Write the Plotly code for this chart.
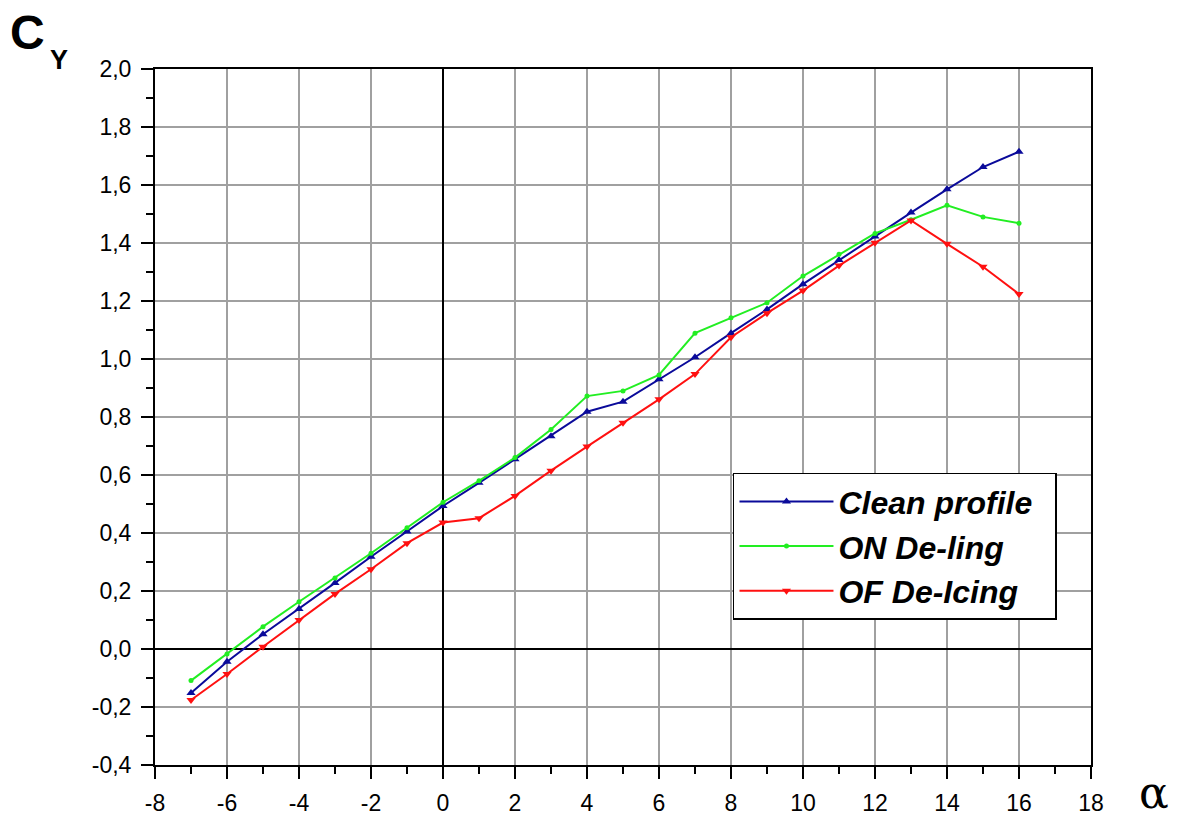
import plotly.graph_objects as go

alpha = list(range(-7, 17))
clean = [-0.152, -0.044, 0.051, 0.138, 0.228, 0.318, 0.405, 0.493, 0.573, 0.654, 0.734, 0.818,
         0.853, 0.930, 1.006, 1.089, 1.171, 1.258, 1.341, 1.422, 1.505, 1.585, 1.662, 1.715]
on_deicing = [-0.109, -0.017, 0.077, 0.163, 0.245, 0.330, 0.418, 0.506, 0.580, 0.660, 0.757, 0.872,
              0.890, 0.945, 1.089, 1.142, 1.194, 1.286, 1.361, 1.433, 1.480, 1.530, 1.490, 1.468]
off_deicing = [-0.176, -0.086, 0.008, 0.100, 0.190, 0.275, 0.365, 0.436, 0.451, 0.528, 0.615, 0.698,
               0.780, 0.861, 0.948, 1.075, 1.158, 1.236, 1.322, 1.401, 1.478, 1.397, 1.318, 1.224]

series_names = ["Clean profile", "ON De-ling", "OF De-Icing"]
colors = ["#0a0a9a", "#22ee22", "#ff1010"]
symbols = ["triangle-up", "circle", "triangle-down"]
sizes = [8, 5, 8]

x_ticks = list(range(-8, 19, 2))
x_ticktext = [str(v) for v in x_ticks]
y_ticks = [round(-0.4 + 0.2 * i, 1) for i in range(13)]
y_ticktext = [f"{v:.1f}".replace(".", ",") for v in y_ticks]

FONT = "Liberation Sans, Arial, sans-serif"

fig = go.Figure()
for name, ys, c, s, sz in zip(series_names, [clean, on_deicing, off_deicing], colors, symbols, sizes):
    fig.add_trace(go.Scatter(
        x=alpha, y=ys, mode="lines+markers", name=f"<b><i>{name}</i></b>&nbsp;&nbsp;",
        line=dict(color=c, width=2),
        marker=dict(symbol=s, size=sz, color=c),
    ))

axis_font = dict(family=FONT, size=23, color="black")
common = dict(
    showline=True, linecolor="black", linewidth=2, mirror=True,
    ticks="outside", ticklen=12, tickwidth=2, tickcolor="black",
    showgrid=True, gridcolor="#a0a0a0", gridwidth=1.5,
    zeroline=True, zerolinecolor="black", zerolinewidth=2,
    tickfont=axis_font, automargin=False,
)
fig.update_xaxes(
    range=[-8, 18], tickvals=x_ticks, ticktext=x_ticktext,
    minor=dict(ticks="outside", dtick=1, ticklen=7, tickwidth=2, tickcolor="black", showgrid=False),
    ticklabelstandoff=4,
    **common,
)
fig.update_yaxes(
    range=[-0.4, 2.0], tickvals=y_ticks, ticktext=y_ticktext,
    minor=dict(ticks="outside", dtick=0.1, ticklen=7, tickwidth=2, tickcolor="black", showgrid=False),
    ticklabelstandoff=5,
    **common,
)

fig.update_layout(
    width=1177, height=818,
    margin=dict(l=155, r=86, t=69, b=53),
    paper_bgcolor="white", plot_bgcolor="white",
    showlegend=True,
    legend=dict(
        x=0.6175, y=0.420, xanchor="left", yanchor="top",
        bgcolor="white", bordercolor="black", borderwidth=1.5,
        font=dict(family=FONT, size=32, color="black"),
        itemwidth=94, tracegroupgap=0,
    ),
)

fig.add_annotation(text="<b>C</b>", xref="paper", yref="paper", x=-0.136, y=1.053,
                   xanchor="center", yanchor="middle", showarrow=False,
                   font=dict(family=FONT, size=48, color="black"))
fig.add_annotation(text="<b>Y</b>", xref="paper", yref="paper", x=-0.1026, y=1.013,
                   xanchor="center", yanchor="middle", showarrow=False,
                   font=dict(family=FONT, size=27, color="black"))
fig.add_annotation(text="α", xref="paper", yref="paper", x=1.067, y=-0.040,
                   xanchor="center", yanchor="middle", showarrow=False,
                   font=dict(family="DejaVu Serif, serif", size=44, color="black"))

fig.write_html("out.html", config={"displayModeBar": False},
               post_script="document.body.style.margin='0px';")
